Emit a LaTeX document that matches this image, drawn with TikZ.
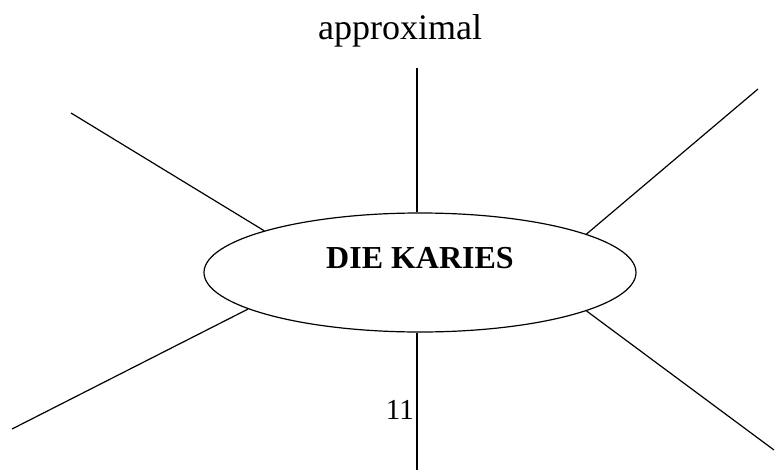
\documentclass[tikz,border=0pt]{standalone}
\usepackage{fontspec}
\setmainfont{Liberation Serif}
\usetikzlibrary{shapes.geometric}

\tikzset{
  spoke/.style={line width=1.2pt},
  bigtext/.style={inner sep=0pt, font=\fontsize{36}{40}\selectfont},
  titletext/.style={inner sep=0pt, font=\fontsize{32}{36}\selectfont\bfseries},
  pagenum/.style={inner sep=0pt, font=\fontsize{29}{32}\selectfont}
}

\begin{document}
\begin{tikzpicture}[x=1pt,y=-1pt]
			\useasboundingbox (0,0) rectangle (776,473);
			\node[draw, ellipse, line width=1.2pt, inner sep=0pt, minimum width=432pt, minimum height=119pt](karies) at (420,272.5) {};
			\node[titletext, anchor=base](title) at (420,268) {DIE KARIES};
			\node[bigtext, anchor=base](approx) at (400,40) {approximal};
			\node[pagenum, anchor=base east](num) at (414,419) {11};
			\coordinate (topend) at (417,68);
			\coordinate (botend) at (417,470);
			\coordinate (tlend) at (71,113);
			\coordinate (trend) at (758,89);
			\coordinate (blend) at (12,429);
			\coordinate (brend) at (774,450);
			\draw[spoke](topend) -- (topend |- karies.north);
			\draw[spoke](botend) -- (botend |- karies.south);
			\draw[spoke](tlend) -- (karies.165.6);
			\draw[spoke](trend) -- (karies.13.2);
			\draw[spoke](blend) -- (karies.192.2);
			\draw[spoke](brend) -- (karies.347.6);
		\end{tikzpicture}
\end{document}
